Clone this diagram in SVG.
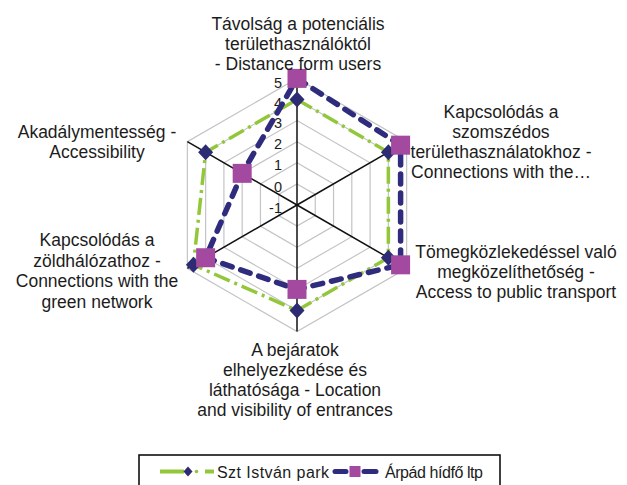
<svg xmlns="http://www.w3.org/2000/svg" width="627" height="485" viewBox="0 0 627 485">
<defs>
<style>
.lbl{font-family:"Liberation Sans",Arial,sans-serif;font-size:17.5px;fill:#1c1c1c;text-anchor:middle}
.tick{font-family:"Liberation Sans",Arial,sans-serif;font-size:14.5px;fill:#1c1c1c;text-anchor:end}
.leg{font-family:"Liberation Sans",Arial,sans-serif;font-size:16px;fill:#1c1c1c}
.grid{fill:none;stroke:#c4c4c4;stroke-width:1.2}
.axis{stroke:#111;stroke-width:1.5}
.s1{fill:none;stroke:#92c73a;stroke-width:3.5;stroke-dasharray:17 5 3 5;stroke-linejoin:round}
.s2{fill:none;stroke:#2f2c7e;stroke-width:5.5;stroke-dasharray:10 9;stroke-linecap:round;stroke-linejoin:round}
.dia{fill:#2d2b73}
.sq{fill:#a34aa0}
</style>
<path id="d" d="M0,-8 L7.5,0 L0,8 L-7.5,0 Z"/>
<rect id="q" x="-9.5" y="-9.5" width="19" height="19"/>
</defs>
<rect width="627" height="485" fill="#fff"/>
<g id="grid">
<polygon class="grid" points="297,183.9 315.27,194.45 315.27,215.55 297,226.1 278.73,215.55 278.73,194.45"/>
<polygon class="grid" points="297,162.8 333.55,183.9 333.55,226.1 297,247.2 260.45,226.1 260.45,183.9"/>
<polygon class="grid" points="297,141.7 351.82,173.35 351.82,236.65 297,268.3 242.18,236.65 242.18,173.35"/>
<polygon class="grid" points="297,120.6 370.09,162.8 370.09,247.2 297,289.4 223.91,247.2 223.91,162.8"/>
<polygon class="grid" points="297,99.5 388.36,152.25 388.36,257.75 297,310.5 205.64,257.75 205.64,152.25"/>
<polygon class="grid" points="297,78.4 406.64,141.7 406.64,268.3 297,331.6 187.36,268.3 187.36,141.7"/>
</g>
<g id="axes">
<line class="axis" x1="297" y1="205" x2="297" y2="78.4"/>
<line class="axis" x1="297" y1="205" x2="406.64" y2="141.7"/>
<line class="axis" x1="297" y1="205" x2="406.64" y2="268.3"/>
<line class="axis" x1="297" y1="205" x2="297" y2="331.6"/>
<line class="axis" x1="297" y1="205" x2="187.36" y2="268.3"/>
<line class="axis" x1="297" y1="205" x2="187.36" y2="141.7"/>
</g>
<g id="ticks">
<text class="tick" x="282" y="88">5</text>
<text class="tick" x="282" y="107.5">4</text>
<text class="tick" x="282" y="128">3</text>
<text class="tick" x="282" y="149">2</text>
<text class="tick" x="282" y="170">1</text>
<text class="tick" x="282" y="191.5">0</text>
<text class="tick" x="282" y="213">-1</text>
</g>
<g id="connectors">
<g id="series-szt-istvan">
<polygon class="s1" points="297,99.5 388.36,152.25 388.36,257.75 297,310.5 193.4,264.82 205.64,152.25"/>
<use href="#d" class="dia" x="297" y="99.5"/>
<use href="#d" class="dia" x="388.36" y="152.25"/>
<use href="#d" class="dia" x="388.36" y="257.75"/>
<use href="#d" class="dia" x="297" y="310.5"/>
<use href="#d" class="dia" x="193.4" y="264.82"/>
<use href="#d" class="dia" x="205.64" y="152.25"/>
</g>
<g id="series-arpad">
<polygon class="s2" points="297,78.4 400.6,145.18 400.6,264.82 297,289.4 205.64,257.75 242.18,173.35"/>
<use href="#q" class="sq" x="297" y="78.4"/>
<use href="#q" class="sq" x="400.6" y="145.18"/>
<use href="#q" class="sq" x="400.6" y="264.82"/>
<use href="#q" class="sq" x="297" y="289.4"/>
<use href="#q" class="sq" x="205.64" y="257.75"/>
<use href="#q" class="sq" x="242.18" y="173.35"/>
</g>
</g>
<g id="label-top">
<text class="lbl" x="298" y="29.5">Távolság a potenciális</text>
<text class="lbl" x="298" y="49.5">területhasználóktól</text>
<text class="lbl" x="298" y="69.5">- Distance form users</text>
</g>
<g id="label-upper-right">
<text class="lbl" x="501" y="117.5">Kapcsolódás a</text>
<text class="lbl" x="501" y="137.5">szomszédos</text>
<text class="lbl" x="501" y="157.5">területhasználatokhoz -</text>
<text class="lbl" x="501" y="177.5">Connections with the…</text>
</g>
<g id="label-lower-right">
<text class="lbl" x="516" y="258">Tömegközlekedéssel való</text>
<text class="lbl" x="516" y="278">megközelíthetőség -</text>
<text class="lbl" x="516" y="298">Access to public transport</text>
</g>
<g id="label-bottom">
<text class="lbl" x="295" y="356">A bejáratok</text>
<text class="lbl" x="295" y="376">elhelyezkedése és</text>
<text class="lbl" x="295" y="396">láthatósága - Location</text>
<text class="lbl" x="295" y="416">and visibility of entrances</text>
</g>
<g id="label-lower-left">
<text class="lbl" x="97" y="246">Kapcsolódás a</text>
<text class="lbl" x="97" y="266.5">zöldhálózathoz -</text>
<text class="lbl" x="97" y="287">Connections with the</text>
<text class="lbl" x="97" y="307.5">green network</text>
</g>
<g id="label-upper-left">
<text class="lbl" x="97" y="138">Akadálymentesség -</text>
<text class="lbl" x="97" y="158">Accessibility</text>
</g>
<g id="legend">
<rect x="139" y="455" width="361" height="40" fill="#fff" stroke="#111" stroke-width="1.6"/>
<line x1="160" y1="471.5" x2="184" y2="471.5" stroke="#92c73a" stroke-width="4"/>
<path d="M188,466.5 L192.5,471.5 L188,476.5 L183.5,471.5 Z" fill="#2d2b73"/>
<circle cx="196.5" cy="471.5" r="1.8" fill="#92c73a"/>
<line x1="205" y1="471.5" x2="214" y2="471.5" stroke="#92c73a" stroke-width="4"/>
<text class="leg" x="217" y="477.5" textLength="112">Szt István park</text>
<line x1="335" y1="471.5" x2="346" y2="471.5" stroke="#2f2c7e" stroke-width="5" stroke-linecap="round"/>
<rect x="349.5" y="466" width="11" height="11" fill="#a34aa0"/>
<line x1="364" y1="471.5" x2="376" y2="471.5" stroke="#2f2c7e" stroke-width="5" stroke-linecap="round"/>
<text class="leg" x="385" y="477.5" textLength="98">Árpád hídfő ltp</text>
</g>
</svg>
